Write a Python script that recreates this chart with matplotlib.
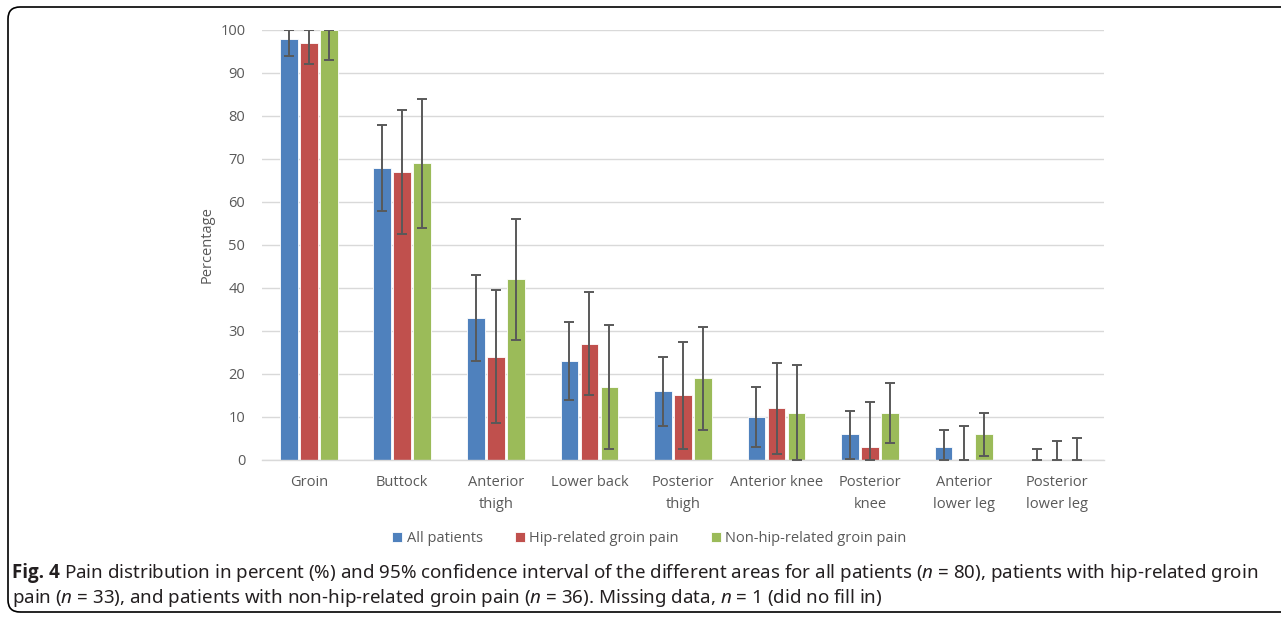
import numpy as np
import matplotlib
matplotlib.use("Agg")
import matplotlib.pyplot as plt
from matplotlib.patches import FancyBboxPatch

# ====== DATA =======
areas = ["Groin", "Buttock", "Anterior\nthigh", "Lower back", "Posterior\nthigh",
         "Anterior knee", "Posterior\nknee", "Anterior\nlower leg", "Posterior\nlower leg"]
series_names = ["All patients", "Hip-related groin pain", "Non-hip-related groin pain"]

all_pct = [98, 68, 33, 23, 16, 10, 6, 3, 0]
all_lo = [94, 58, 23, 14, 8, 3, 0.3, 0, 0]
all_hi = [100, 78, 43, 32, 24, 17, 11.5, 7, 2.5]

hip_pct = [97, 67, 24, 27, 15, 12, 3, 0, 0]
hip_lo = [92, 52.5, 8.5, 15, 2.5, 1.3, 0, 0, 0]
hip_hi = [100, 81.5, 39.5, 39, 27.5, 22.5, 13.5, 8, 4.5]

non_pct = [100, 69, 42, 17, 19, 11, 11, 6, 0]
non_lo = [93, 54, 28, 2.5, 7, 0, 4, 1, 0]
non_hi = [100, 84, 56, 31.5, 31, 22, 18, 11, 5]

colors = ["#4F81BD", "#C0504D", "#9BBB59"]

# ====== FONTS =======
plt.rcParams['font.family'] = ['Open Sans', 'DejaVu Sans']
plt.rcParams['mathtext.fontset'] = 'custom'
plt.rcParams['mathtext.rm'] = 'Noto Sans'
plt.rcParams['mathtext.it'] = 'Noto Sans:italic'

fig = plt.figure(figsize=(12.81, 6.17), dpi=100)
ax = fig.add_axes([0.2045, 0.2545, 0.6573, 0.6969])

x = np.arange(len(areas))
width = 0.19
step = 0.214
groups = [(all_pct, all_lo, all_hi), (hip_pct, hip_lo, hip_hi), (non_pct, non_lo, non_hi)]
for i, (vals, lo, hi) in enumerate(groups):
    vals = np.array(vals, dtype=float)
    yerr = np.vstack([vals - np.array(lo), np.array(hi) - vals])
    ax.bar(x + (i - 1) * step, vals, width, color=colors[i], edgecolor="white",
           linewidth=0.6, label=series_names[i], zorder=2)
    ax.errorbar(x + (i - 1) * step, vals, yerr=yerr, fmt="none", ecolor="#595959",
                elinewidth=1.4, capsize=3.3, capthick=1.4, zorder=3)

ax.set_ylim(0, 100)
ax.set_xlim(-0.5, len(areas) - 0.5)
ax.set_yticks(range(0, 101, 10))
ax.yaxis.grid(True, color="#D9D9D9", linewidth=1.0, zorder=0)
ax.set_axisbelow(True)
for s in ["top", "right", "left"]:
    ax.spines[s].set_visible(False)
ax.spines["bottom"].set_color("#D9D9D9")
ax.spines["bottom"].set_linewidth(1.0)
ax.tick_params(axis="both", length=0, labelsize=10.5, labelcolor="#595959")
ax.tick_params(axis="y", pad=12)
ax.tick_params(axis="x", pad=11)
ax.set_xticks(x)
ax.set_xticklabels(areas, linespacing=1.6)
ax.set_ylabel("Percentage", fontsize=10.5, color="#595959", labelpad=4)

leg = ax.legend(loc="upper center", bbox_to_anchor=(0.46, -0.135), ncol=3, frameon=False,
                fontsize=10.5, handlelength=0.7, handleheight=0.7, columnspacing=2.2,
                handletextpad=0.3)
for t in leg.get_texts():
    t.set_color("#595959")

# ====== CAPTION =======
cap_size = 13.5
cap_color = "#231F20"
x0 = 0.0094
t_bold = fig.text(x0, 0.063, "Fig. 4", fontsize=cap_size, family=["Open Sans", "DejaVu Sans"],
                  weight="bold", color=cap_color, va="baseline")
renderer = fig.canvas.get_renderer()
bb = t_bold.get_window_extent(renderer)
x1 = (bb.x1 + 4) / fig.bbox.width
fig.text(x1, 0.063,
         r"Pain distribution in percent (%) and 95% confidence interval of the different areas for all patients ($\mathit{n}$ = 80), patients with hip-related groin",
         fontsize=cap_size, family="Noto Sans", color=cap_color, va="baseline")
fig.text(x0, 0.022,
         r"pain ($\mathit{n}$ = 33), and patients with non-hip-related groin pain ($\mathit{n}$ = 36). Missing data, $\mathit{n}$ = 1 (did no fill in)",
         fontsize=cap_size, family="Noto Sans", color=cap_color, va="baseline")

frame = FancyBboxPatch((0.08, 0.05), 13.5, 6.05, boxstyle="round,pad=0,rounding_size=0.12",
                       transform=fig.dpi_scale_trans, fill=False, edgecolor="black",
                       linewidth=1.2, clip_on=False)
fig.add_artist(frame)

plt.savefig("out.png", dpi=100)
plt.close()
